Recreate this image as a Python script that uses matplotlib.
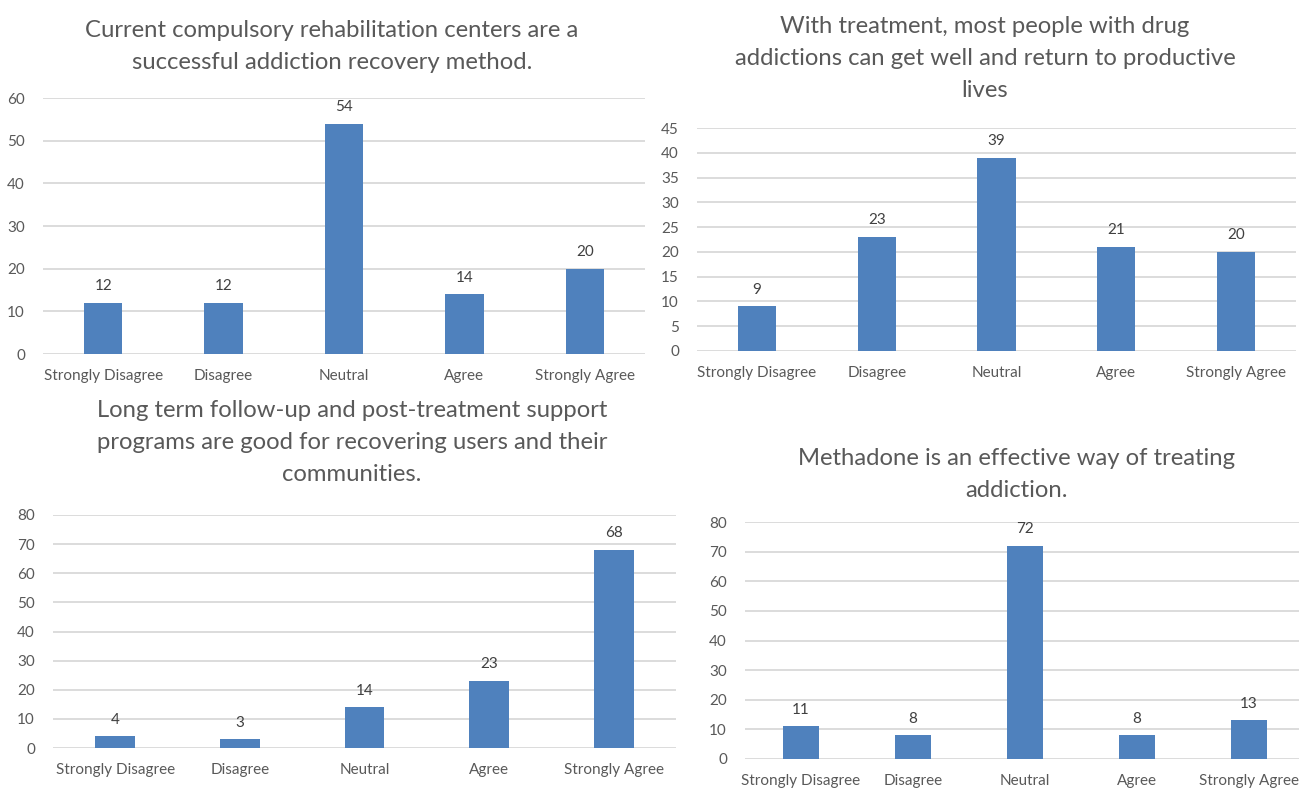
import matplotlib
matplotlib.use("Agg")
import matplotlib.pyplot as plt

W, H = 1299, 788

categories = ["Strongly Disagree", "Disagree", "Neutral", "Agree", "Strongly Agree"]

rehab_values = [12, 12, 54, 14, 20]
treatment_values = [9, 23, 39, 21, 20]
followup_values = [4, 3, 14, 23, 68]
methadone_values = [11, 8, 72, 8, 13]

rehab_title = "Current compulsory rehabilitation centers are a\nsuccessful addiction recovery method."
treatment_title = "With treatment, most people with drug\naddictions can get well and return to productive\nlives"
followup_title = "Long term follow-up and post-treatment support\nprograms are good for recovering users and their\ncommunities."
methadone_title = "Methadone is an effective way of treating\naddiction."

BAR = "#4F81BD"
GRID = "#D9D9D9"
TEXT = "#595959"
LABEL = "#404040"

plt.rcParams['font.family'] = ['Lato', 'DejaVu Sans']


def px_axes(fig, left, right, top, bottom):
    return fig.add_axes([left / W, 1 - bottom / H, (right - left) / W, (bottom - top) / H])


def draw_panel(fig, rect, values, ymax, ystep, title, title_xy):
    ax = px_axes(fig, *rect)
    x = list(range(len(categories)))
    ax.bar(x, values, width=0.32, color=BAR, zorder=3)
    for xi, v in zip(x, values):
        ax.annotate(str(v), (xi, v), xytext=(0, 7), textcoords="offset points",
                    ha="center", va="bottom", fontsize=11, color=LABEL)
    ax.set_xlim(-0.5, len(categories) - 0.5)
    ax.set_ylim(0, ymax)
    ax.set_yticks(range(0, ymax + 1, ystep))
    ax.set_xticks(x)
    ax.set_xticklabels(categories)
    ax.grid(axis="y", color=GRID, linewidth=1.3, zorder=0)
    ax.set_axisbelow(True)
    for s in ax.spines.values():
        s.set_visible(False)
    ax.tick_params(axis="both", length=0, labelsize=11, colors=TEXT)
    ax.tick_params(axis="y", pad=13)
    ax.tick_params(axis="x", pad=11)
    ax.patch.set_alpha(0)
    fig.text(title_xy[0] / W, 1 - title_xy[1] / H, title, ha="center", va="top",
             fontsize=17.2, color=TEXT, linespacing=1.65)
    return ax


fig = plt.figure(figsize=(W / 100, H / 100), dpi=100)

draw_panel(fig, (43, 645, 98, 354), rehab_values, 60, 10, rehab_title, (332, 20))
draw_panel(fig, (697, 1296, 128, 351), treatment_values, 45, 5, treatment_title, (985, 16))
draw_panel(fig, (53, 676, 515, 748), followup_values, 80, 10, followup_title, (352, 400))
draw_panel(fig, (745, 1305, 522, 759), methadone_values, 80, 10, methadone_title, (1017, 448))

fig.savefig("out.png", dpi=100)
